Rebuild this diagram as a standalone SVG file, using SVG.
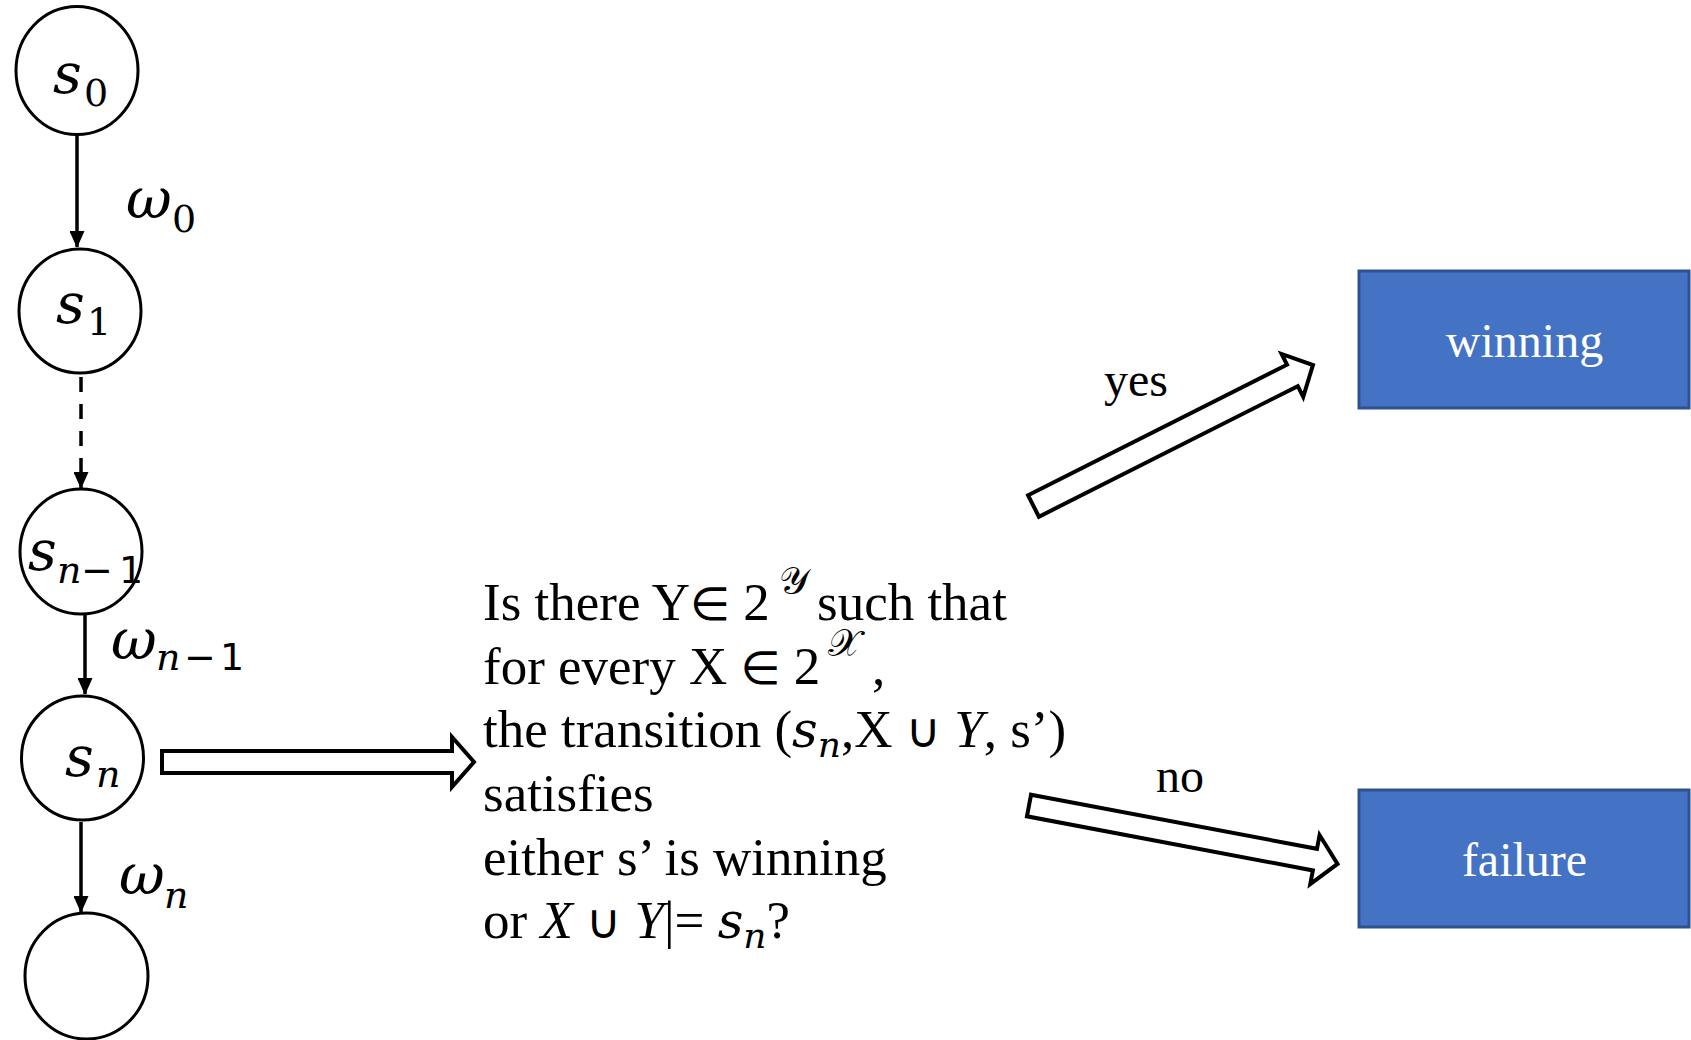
<svg xmlns="http://www.w3.org/2000/svg" width="1691" height="1040" viewBox="0 0 1691 1040">
<defs>
<style>
.node{fill:#fff;stroke:#000;stroke-width:3}
.edge{fill:none;stroke:#000;stroke-width:3.5}
.blk{fill:#fff;stroke:#000;stroke-width:4;stroke-linejoin:miter}
.box{fill:#4472C4;stroke:#2F528F;stroke-width:3}
.t{font-family:"Liberation Serif","Times New Roman",serif;font-size:53px;fill:#000}
.lbl{font-family:"Liberation Serif","Times New Roman",serif;font-size:48px;fill:#000}
.wt{font-family:"Liberation Serif","Times New Roman",serif;font-size:48px;fill:#fff}
.mi{font-family:"DejaVu Serif",serif;font-style:italic}
.li{font-family:"Liberation Serif",serif;font-style:italic}
.op{font-family:"DejaVu Sans",sans-serif}
.ml{font-family:"DejaVu Serif",serif;font-style:italic;font-size:56px;fill:#000}
.sub{font-size:38px;font-style:normal}
.subi{font-size:38px}
.scr{font-family:"DejaVu Serif","DejaVu Sans","Noto Sans",serif;font-size:38px}
</style>
<marker id="ah" viewBox="0 0 17 15" refX="16" refY="7.5" markerWidth="17" markerHeight="15" orient="auto" markerUnits="userSpaceOnUse">
<path d="M0,0 L17,7.5 L0,15 z" fill="#000"/>
</marker>
</defs>

<g id="connectors">
<line class="edge" x1="77" y1="135" x2="77" y2="247" marker-end="url(#ah)"/>
<line class="edge" x1="81" y1="377" x2="81" y2="488" stroke-dasharray="15 12" marker-end="url(#ah)"/>
<line class="edge" x1="85" y1="615" x2="85" y2="694" marker-end="url(#ah)"/>
<line class="edge" x1="81" y1="822" x2="81" y2="912" marker-end="url(#ah)"/>
<polygon id="arrow-main" class="blk" points="162,751 452,751 452,737 474,762 452,787 452,773 162,773"/>
<polygon id="arrow-yes" class="blk" transform="translate(1033.5,506) rotate(-26.77)" points="0,-12 290,-12 290,-24 313,0 290,24 290,12 0,12"/>
<polygon id="arrow-no" class="blk" transform="translate(1029,805.5) rotate(10.72)" points="0,-11 291,-11 291,-25 314,0 291,25 291,11 0,11"/>
<text class="ml" x="126" y="218">ω<tspan class="sub" x="172" dy="14">0</tspan></text>
<text class="ml" x="111" y="659">ω<tspan class="subi" x="156" dy="11">n</tspan><tspan class="sub" font-family="DejaVu Sans" x="184">−</tspan><tspan class="sub" font-family="DejaVu Sans" x="220">1</tspan></text>
<text class="ml" x="119" y="894">ω<tspan class="subi" x="164" dy="14">n</tspan></text>
<text class="lbl" x="1104" y="396">yes</text>
<text class="lbl" x="1156" y="792">no</text>
</g>

<g id="s0">
<ellipse class="node" cx="77" cy="70.5" rx="61" ry="64"/>
<text class="ml" x="53" y="93">s<tspan class="sub" x="84" dy="13">0</tspan></text>
</g>
<g id="s1">
<ellipse class="node" cx="80" cy="311" rx="61" ry="62"/>
<text class="ml" x="56" y="323">s<tspan class="sub" x="87" dy="12">1</tspan></text>
</g>
<g id="sn-1">
<ellipse class="node" cx="81" cy="551.5" rx="61" ry="62.5"/>
<text class="ml" x="28" y="570">s<tspan class="subi" x="57" dy="13">n</tspan><tspan class="sub" font-family="DejaVu Sans" x="81">−</tspan><tspan class="sub" font-family="DejaVu Sans" x="119">1</tspan></text>
</g>
<g id="sn">
<ellipse class="node" cx="82.5" cy="758" rx="61" ry="62"/>
<text class="ml" x="65" y="776">s<tspan class="subi" x="96" dy="11">n</tspan></text>
</g>
<g id="s-next">
<ellipse class="node" cx="86.5" cy="976" rx="61.5" ry="63"/>
</g>

<g id="question">
<text class="t" x="483" y="620">Is there Y<tspan class="op" font-size="46">∈</tspan> 2</text>
<text class="t" x="779" y="594"><tspan class="scr">𝒴</tspan></text>
<text class="t" x="817" y="620">such that</text>
<text class="t" x="483" y="684">for every X <tspan class="op" font-size="46">∈</tspan> 2</text>
<text class="t" x="828" y="656"><tspan class="scr">𝒳</tspan></text>
<text class="t" x="872" y="684">,</text>
<text class="t" x="483" y="747">the transition (<tspan class="mi" font-size="50">s</tspan><tspan class="mi" font-size="36" dy="10">n</tspan><tspan dy="-10">,X </tspan><tspan class="op" font-size="48">∪</tspan> <tspan class="li">Y</tspan>, s’)</text>
<text class="t" x="483" y="811">satisfies</text>
<text class="t" x="483" y="875">either s’ is winning</text>
<text class="t" x="483" y="938">or <tspan class="li">X</tspan> <tspan class="op" font-size="48">∪</tspan> <tspan class="li">Y</tspan>|= <tspan class="mi" font-size="50">s</tspan><tspan class="mi" font-size="36" dy="10">n</tspan><tspan dy="-10">?</tspan></text>
</g>

<g id="winning">
<rect class="box" x="1359" y="271" width="330" height="137"/>
<text class="wt" x="1524.5" y="357" text-anchor="middle">winning</text>
</g>
<g id="failure">
<rect class="box" x="1359" y="790" width="330" height="137"/>
<text class="wt" x="1524.5" y="876" text-anchor="middle">failure</text>
</g>
</svg>
